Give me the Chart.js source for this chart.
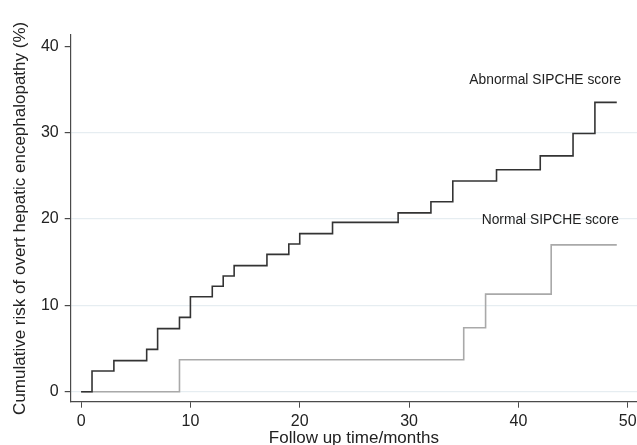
<!DOCTYPE html>
<html>
<head>
<meta charset="utf-8">
<script src="https://cdn.jsdelivr.net/npm/chart.js@4/dist/chart.umd.min.js"></script>
<style>
  html, body { margin: 0; padding: 0; background: #fff; }
  #chart { display: block; }
</style>
</head>
<body>
<canvas id="chart" width="637" height="445"></canvas>
<script>
// months and cumulative risk (%)
const abnormalMonths = [0, 1, 3, 6, 7, 9, 10, 12, 13, 14, 17, 19, 20, 23, 29, 32, 34, 38, 42, 45, 47, 49];
const abnormalRisk = [0, 2.4, 3.6, 4.9, 7.3, 8.6, 11.0, 12.2, 13.4, 14.6, 15.9, 17.1, 18.3, 19.6, 20.7, 22.0, 24.4, 25.7, 27.3, 29.9, 33.5, 33.5];
const normalMonths = [0, 9, 35, 37, 43, 49];
const normalRisk = [0, 3.7, 7.4, 11.3, 17.0, 17.0];
const xTicks = [0, 10, 20, 30, 40, 50];
const yTicks = [0, 10, 20, 30, 40];
const curveLabels = ["Abnormal SIPCHE score", "Normal SIPCHE score"];
const labelSpots = [[49.4, 36.1], [49.2, 19.8]];

const fontFamily = "'Liberation Sans', Arial, Helvetica, sans-serif";
const axisColor = "#4a4a4a";
const textColor = "#222";

function toPoints(xs, ys) {
    return xs.map((x, i) => ({ x: x, y: ys[i] }));
}

// writes the two curve names next to the lines
const curveNames = {
    id: "curveNames",
    afterDatasetsDraw(chart) {
        const ctx = chart.ctx;
        const xs = chart.scales.x;
        const ys = chart.scales.y;
        ctx.save();
        ctx.font = "13.8px " + fontFamily;
        ctx.fillStyle = textColor;
        ctx.textAlign = "right";
        ctx.textBaseline = "middle";
        curveLabels.forEach((txt, i) => {
            ctx.fillText(txt, xs.getPixelForValue(labelSpots[i][0]), ys.getPixelForValue(labelSpots[i][1]));
        });
        ctx.restore();
    }
};

new Chart(document.getElementById("chart"), {
    type: "line",
    data: {
        datasets: [
            {
                label: curveLabels[0],
                data: toPoints(abnormalMonths, abnormalRisk),
                borderColor: "#333",
                borderWidth: 1.6,
                pointRadius: 0,
                stepped: true,
                fill: false
            },
            {
                label: curveLabels[1],
                data: toPoints(normalMonths, normalRisk),
                borderColor: "#a9a9a9",
                borderWidth: 1.6,
                pointRadius: 0,
                stepped: true,
                fill: false
            }
        ]
    },
    options: {
        responsive: false,
        animation: false,
        layout: { padding: { top: 35, right: 0, left: 0, bottom: 0 } },
        plugins: {
            legend: { display: false },
            tooltip: { enabled: false }
        },
        scales: {
            x: {
                type: "linear",
                min: -0.95,
                max: 50.85,
                afterBuildTicks: s => { s.ticks = xTicks.map(v => ({ value: v })); },
                afterFit: s => { s.height = 43.3; s.paddingRight = 0; s.paddingLeft = 0; },
                border: { color: axisColor, width: 1.2 },
                grid: { color: "rgba(0,0,0,0)", tickColor: axisColor, tickLength: 6, drawOnChartArea: false },
                ticks: { color: textColor, font: { family: fontFamily, size: 16 }, padding: 4, maxRotation: 0 },
                title: {
                    display: true,
                    text: "Follow up time/months",
                    color: textColor,
                    font: { family: fontFamily, size: 17 },
                    padding: { top: 0, bottom: -4 }
                }
            },
            y: {
                type: "linear",
                min: -1.16,
                max: 41.3,
                afterBuildTicks: s => { s.ticks = yTicks.map(v => ({ value: v })); },
                afterFit: s => { s.width = 70.7; },
                border: { color: axisColor, width: 1.2 },
                grid: {
                    color: ctx => (ctx.tick && ctx.tick.value === 40 ? "rgba(0,0,0,0)" : "#e6edf1"),
                    tickColor: axisColor,
                    tickLength: 6,
                    lineWidth: 1.2
                },
                ticks: { color: textColor, font: { family: fontFamily, size: 16 }, padding: 6 },
                title: {
                    display: true,
                    text: "Cumulative risk of overt hepatic encephalopathy (%)",
                    color: textColor,
                    font: { family: fontFamily, size: 17 },
                    padding: { top: 10, bottom: 0 }
                }
            }
        }
    },
    plugins: [curveNames]
});
</script>
</body>
</html>
